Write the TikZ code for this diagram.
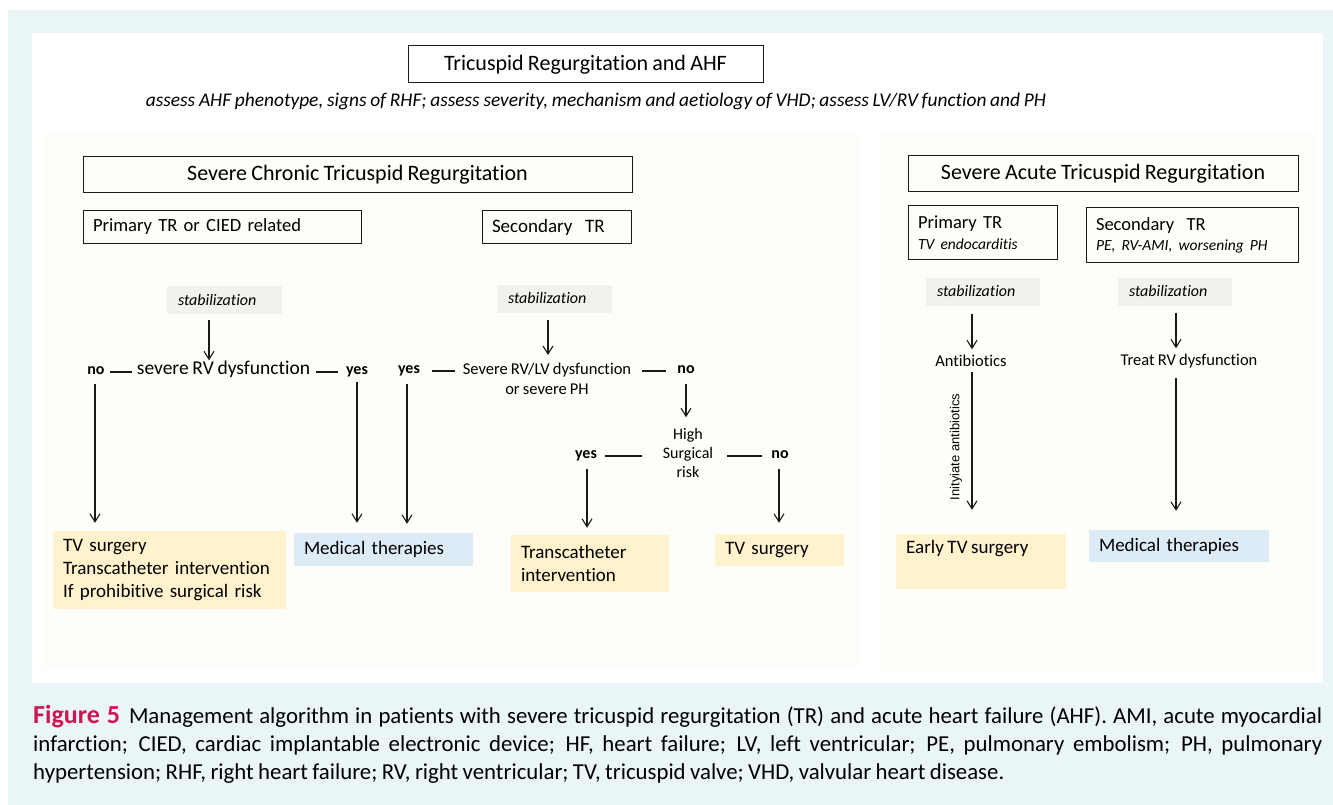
\documentclass[tikz,border=0pt]{standalone}
\usepackage{fontspec}
\setmainfont{Carlito}[Ligatures=NoCommon, WordSpace=0.85]
\newfontfamily\rotfont{Liberation Sans}
\usetikzlibrary{arrows.meta}
\definecolor{bgblue}{HTML}{EAF5F8}
\definecolor{offw}{HTML}{FDFDF9}
\definecolor{ylw}{HTML}{FFF2CC}
\definecolor{blu}{HTML}{DDEBF7}
\definecolor{stabg}{HTML}{F2F1ED}
\definecolor{figred}{RGB}{205,22,80}
\definecolor{ink}{HTML}{1A1A1A}
\tikzset{
  cbox/.style={draw=ink, line width=1pt, inner sep=0pt, align=center, font={\fontsize{22}{26}\selectfont}},
  lbox/.style={draw=ink, line width=1pt, inner xsep=10pt, inner ysep=0pt, align=left},
  stab/.style={fill=stabg, inner xsep=11pt, inner ysep=0pt, align=left, minimum height=28pt, font={\itshape\fontsize{16}{18}\selectfont}},
  res/.style={inner xsep=10pt, inner ysep=0pt, align=left, font={\fontsize{19}{23}\selectfont}},
  yn/.style={inner sep=0pt, text height=0.7em, text depth=0.2em, font={\bfseries\fontsize{16}{18}\selectfont}},
  lab/.style={inner sep=0pt, text height=0.7em, text depth=0.2em},
  conn/.style={draw=ink, line width=1.1pt},
  arr/.style={draw=ink, line width=1.1pt, -{Straight Barb[length=8pt,width=10pt,line width=1.1pt]}},
}
\begin{document}
\begin{tikzpicture}[x=1pt,y=-1pt]
\useasboundingbox (0,0) rectangle (1333,805);
\fill[white] (0,0) rectangle (1333,805);
\fill[bgblue] (8,10) rectangle (1333,805);
\fill[white] (32,33) rectangle (1323,683);
\fill[offw] (43,133) rectangle (860,668);
\fill[offw] (878,133) rectangle (1315,672);

% header
\node[cbox, minimum width=355pt, minimum height=37pt] (title) at (585.5,64.5) {Tricuspid Regurgitation and AHF};
\node[lab, font={\itshape\fontsize{19.4}{22}\selectfont}] (assess) at (596,104) {assess AHF phenotype, signs of RHF; assess severity, mechanism and aetiology of VHD; assess LV/RV function and PH};

% chronic
\node[cbox, minimum width=549pt, minimum height=36pt] (chronic) at (357.5,174.5) {Severe Chronic Tricuspid Regurgitation};
\node[lbox, text width=258pt, minimum height=33pt, font={\fontsize{18.6}{22}\selectfont}] (prim1) at (222,227) {Primary TR or CIED related};
\node[lbox, text width=129pt, minimum height=33pt, font={\fontsize{19}{22}\selectfont}] (sec1) at (556.5,227) {Secondary\ \ TR};

% acute
\node[cbox, minimum width=390pt, minimum height=36pt] (acute) at (1103,173.5) {Severe Acute Tricuspid Regurgitation};
\node[lbox, text width=129pt, minimum height=53pt, font={\fontsize{18.5}{21}\selectfont}] (prim2) at (982.5,232.5) {Primary TR\\{\itshape\fontsize{15.5}{17}\selectfont TV endocarditis}};
\node[lbox, text width=192pt, minimum height=54pt, font={\fontsize{18.5}{20}\selectfont}] (sec2) at (1192,235) {Secondary\ \ TR\\{\itshape\fontsize{15.5}{17}\selectfont PE, RV-AMI, worsening PH}};

% stabilization
\node[stab, text width=93pt] (s1) at (224.5,300) {stabilization};
\node[stab, text width=93pt] (s2) at (554.5,298.5) {stabilization};
\node[stab, text width=92pt] (s3) at (983,291.5) {stabilization};
\node[stab, text width=92pt] (s4) at (1175,291.5) {stabilization};

% decision texts
\node[yn] (no1) at (96,372) {no};
\node[lab, font={\fontsize{19.5}{22}\selectfont}] (rv1) at (223.5,372) {severe RV dysfunction};
\node[yn] (yes1) at (357,372) {yes};
\node[yn] (yes2) at (409,371) {yes};
\node[inner sep=0pt, align=center, font={\fontsize{16.5}{20}\selectfont}] (rvlv) at (547,379) {Severe RV/LV dysfunction\\or severe PH};
\node[yn] (no2) at (686,371) {no};
\node[inner sep=0pt, align=center, font={\fontsize{16}{19}\selectfont}] (hsr) at (688,453) {High\\Surgical\\risk};
\node[yn] (yes3) at (586,456) {yes};
\node[yn] (no3) at (780,456) {no};
\node[lab, font={\fontsize{16.5}{18}\selectfont}] (anti) at (971,364) {Antibiotics};
\node[inner sep=0pt, rotate=90, font={\rotfont\fontsize{13}{14}\selectfont}] (initl) at (956,447) {Inityiate antibiotics};
\node[lab, font={\fontsize{16.5}{18}\selectfont}] (trv) at (1189,363) {Treat RV dysfunction};

% results
\node[res, fill=ylw, text width=213pt, minimum height=78pt] (res1) at (169.5,570) {TV surgery\\Transcatheter intervention\\If prohibitive surgical risk};
\node[res, fill=blu, text width=159pt, minimum height=33pt] (res2) at (383.5,549.5) {Medical therapies};
\node[res, fill=ylw, text width=138pt, minimum height=57pt] (res3) at (590,563.5) {Transcatheter\\intervention};
\node[res, fill=ylw, text width=109pt, minimum height=32pt] (res4) at (779.5,550) {TV surgery};
\node[fill=ylw, inner sep=0pt, minimum width=170pt, minimum height=55pt] (res5) at (981,561.5) {};
\node[lab, anchor=west, font={\fontsize{19}{21}\selectfont}] (res5t) at (906,551) {Early TV surgery};
\node[res, fill=blu, text width=160pt, minimum height=32pt] (res6) at (1179,546) {Medical therapies};

% column coordinates
\coordinate (k1) at (209,0);
\coordinate (k2) at (95,0);
\coordinate (k3) at (357,0);
\coordinate (k4) at (407,0);
\coordinate (k5) at (548,0);
\coordinate (k6) at (686,0);
\coordinate (k7) at (587,0);
\coordinate (k8) at (779,0);
\coordinate (k9) at (972,0);
\coordinate (k10) at (1176,0);

% horizontal connectors
\draw[conn, shorten <=5pt, shorten >=5pt] (no1.east) -- (rv1.west);
\draw[conn, shorten <=6pt, shorten >=8pt] (rv1.east) -- (yes1.west);
\draw[conn, shorten <=12pt, shorten >=8pt] (yes2.east) -- (yes2.east -| rvlv.west);
\draw[conn, shorten <=11pt, shorten >=11pt] (no2.west -| rvlv.east) -- (no2.west);
\draw[conn, shorten <=8pt, shorten >=21pt] (yes3.east) -- (yes3.east -| hsr.west);
\draw[conn, shorten <=14pt, shorten >=9pt] (no3.west -| hsr.east) -- (no3.west);

% arrows
\draw[arr, shorten <=6pt, shorten >=7pt] (s1.south -| k1) -- (k1 |- rv1.north);
\draw[arr, shorten <=7pt, shorten >=8pt] (no1.south -| k2) -- (k2 |- res1.north);
\draw[arr, shorten <=5pt, shorten >=10pt] (yes1.south -| k3) -- (k3 |- res2.north);
\draw[arr, shorten <=8pt, shorten >=9pt] (yes2.south -| k4) -- (k4 |- res2.north);
\draw[arr, shorten <=7pt, shorten >=8pt] (s2.south -| k5) -- (k5 |- rvlv.north);
\draw[arr, shorten <=8pt, shorten >=11pt] (no2.south -| k6) -- (k6 |- hsr.north);
\draw[arr, shorten <=8pt, shorten >=7pt] (yes3.south -| k7) -- (k7 |- res3.north);
\draw[arr, shorten <=8pt, shorten >=11pt] (no3.south -| k8) -- (k8 |- res4.north);
\draw[arr, shorten <=8pt, shorten >=10pt] (s3.south -| k9) -- (k9 |- anti.north);
\draw[arr, shorten <=3pt, shorten >=24pt] (anti.south -| k9) -- (k9 |- res5.north);
\draw[arr, shorten <=7pt, shorten >=10pt] (s4.south -| k10) -- (k10 |- trv.north);
\draw[arr, shorten <=10pt, shorten >=19pt] (trv.south -| k10) -- (k10 |- res6.north);

% caption
\node[anchor=north west, inner sep=0pt, text width=1289pt, align=justify, font={\fontsize{22.8}{28}\selectfont}] (cap) at (33,705) {{\color{figred}\bfseries\fontsize{26}{28}\selectfont Figure 5}\hspace{9pt}Management algorithm in patients with severe tricuspid regurgitation (TR) and acute heart failure (AHF). AMI, acute myocardial\linebreak infarction; CIED, cardiac implantable electronic device; HF, heart failure; LV, left ventricular; PE, pulmonary embolism; PH, pulmonary\linebreak hypertension; RHF, right heart failure; RV, right ventricular; TV, tricuspid valve; VHD, valvular heart disease.};
\end{tikzpicture}
\end{document}
